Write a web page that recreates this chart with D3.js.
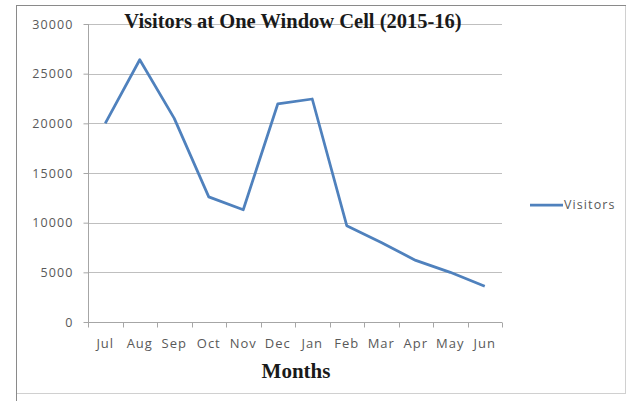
<!DOCTYPE html>
<html>
<head>
<meta charset="utf-8">
<script src="https://cdn.jsdelivr.net/npm/d3@7"></script>
<style>
  body { margin: 0; background: #fff; }
</style>
</head>
<body>
<div id="chart"></div>
<script>
// data
const months = ['Jul', 'Aug', 'Sep', 'Oct', 'Nov', 'Dec', 'Jan', 'Feb', 'Mar', 'Apr', 'May', 'Jun'];
const visitors = [20000, 26400, 20500, 12600, 11300, 21950, 22450, 9700, 8000, 6200, 5000, 3600];
const yTicks = [0, 5000, 10000, 15000, 20000, 25000, 30000];

const svgWidth = 635;
const svgHeight = 401;

const margin = { top: 24, right: 133, bottom: 79, left: 88 };
const width = svgWidth - margin.left - margin.right;
const height = svgHeight - margin.top - margin.bottom;

const labelFont = '"Open Sans", sans-serif';

const svg = d3.select('#chart')
  .append('svg')
  .attr('width', svgWidth)
  .attr('height', svgHeight);

// chart frame
svg.append('rect')
  .attr('x', 16.5).attr('y', 5.5)
  .attr('width', 609).attr('height', 388)
  .attr('fill', '#fff')
  .attr('stroke', '#d0d0d0');
svg.append('line')
  .attr('x1', 16.5).attr('x2', 16.5).attr('y1', 5).attr('y2', 401)
  .attr('stroke', '#8a8a8a');
svg.append('line')
  .attr('x1', 16).attr('x2', 626).attr('y1', 5.5).attr('y2', 5.5)
  .attr('stroke', '#8a8a8a');

const chartGroup = svg.append('g')
  .attr('transform', `translate(${margin.left}, ${margin.top})`);

const xScale = d3.scaleBand()
  .domain(months)
  .range([0, width]);

const yScale = d3.scaleLinear()
  .domain([0, 30000])
  .range([height, 0]);

// gridlines
chartGroup.append('g')
  .selectAll('line')
  .data(yTicks.filter(d => d > 0))
  .enter()
  .append('line')
  .attr('x1', 0).attr('x2', width)
  .attr('y1', d => Math.round(yScale(d)) + 0.5)
  .attr('y2', d => Math.round(yScale(d)) + 0.5)
  .attr('stroke', '#bfbfbf');

// y axis
const yAxis = chartGroup.append('g')
  .attr('transform', 'translate(0.5, 0)')
  .call(d3.axisLeft(yScale).tickValues(yTicks).tickSize(5).tickPadding(10).tickFormat(d3.format('d')));
yAxis.selectAll('line, path').attr('stroke', '#a6a6a6');
yAxis.select('.domain').attr('d', `M0,0V${height}`);
yAxis.selectAll('text')
  .attr('fill', '#595959')
  .style('font-family', labelFont)
  .style('font-size', '12.5px')
  .style('letter-spacing', '1.1px');

// x axis with ticks on band edges
const xAxis = chartGroup.append('g')
  .attr('transform', `translate(0, ${Math.round(height) + 0.5})`)
  .call(d3.axisBottom(xScale).tickSize(0).tickPadding(16));
xAxis.select('.domain').attr('stroke', '#a6a6a6').attr('d', `M0,0H${width}`);
xAxis.selectAll('text')
  .attr('fill', '#595959')
  .style('font-family', labelFont)
  .style('font-size', '13px')
  .style('letter-spacing', '1px');
xAxis.selectAll('.edge')
  .data(d3.range(months.length + 1))
  .enter()
  .append('line')
  .attr('class', 'edge')
  .attr('x1', i => Math.round(i * xScale.step()) + 0.5)
  .attr('x2', i => Math.round(i * xScale.step()) + 0.5)
  .attr('y1', 0).attr('y2', 5)
  .attr('stroke', '#a6a6a6');

// series line
const line = d3.line()
  .x((d, i) => xScale(months[i]) + xScale.bandwidth() / 2)
  .y(d => yScale(d));

chartGroup.append('path')
  .datum(visitors)
  .attr('d', line)
  .attr('fill', 'none')
  .attr('stroke', '#4f81bd')
  .attr('stroke-width', 2.75)
  .attr('stroke-linejoin', 'round');

// title
svg.append('text')
  .attr('x', 293)
  .attr('y', 28)
  .attr('text-anchor', 'middle')
  .style('font-family', '"Liberation Serif", serif')
  .style('font-weight', 'bold')
  .style('font-size', '20.5px')
  .attr('fill', '#1a1a1a')
  .text('Visitors at One Window Cell (2015-16)');

// axis title
svg.append('text')
  .attr('x', 296)
  .attr('y', 378)
  .attr('text-anchor', 'middle')
  .style('font-family', '"Liberation Serif", serif')
  .style('font-weight', 'bold')
  .style('font-size', '21px')
  .attr('fill', '#1a1a1a')
  .text('Months');

// legend
const legend = svg.append('g').attr('transform', 'translate(530, 205)');
legend.append('line')
  .attr('x1', 0).attr('x2', 33)
  .attr('stroke', '#4f81bd')
  .attr('stroke-width', 2.75);
legend.append('text')
  .attr('x', 34)
  .attr('dy', '0.35em')
  .attr('fill', '#595959')
  .style('font-family', labelFont)
  .style('font-size', '12.5px')
  .style('letter-spacing', '1.1px')
  .text('Visitors');
</script>
</body>
</html>
